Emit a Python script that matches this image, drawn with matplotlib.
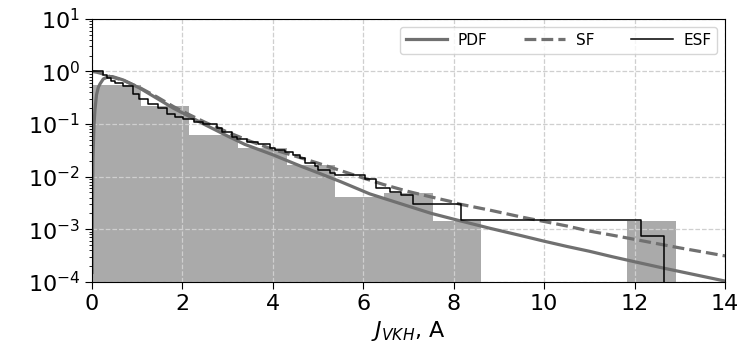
import numpy as np
import matplotlib
matplotlib.use('Agg')
import matplotlib.pyplot as plt

# histogram (density), bin edges and heights
bin_edges = [0, 1.076, 2.152, 3.228, 4.304, 5.38, 6.456, 7.532, 8.608,
             9.684, 10.76, 11.836, 12.912]
bin_density = [0.558, 0.222, 0.0622, 0.0357, 0.0167, 0.00416, 0.00483,
               0.00143, 0, 0, 0, 0.0014]

# fitted PDF
pdf_x = [0.005, 0.01, 0.02, 0.044, 0.066, 0.10, 0.14, 0.177, 0.25, 0.35,
         0.45, 0.69, 1.06, 1.43, 1.80, 2.17, 2.5, 3.0, 3.38, 4.0, 4.6, 5.0,
         5.5, 6.14, 6.8, 7.5, 8.13, 8.8, 9.5, 10.0, 10.5, 11.0, 11.5, 12.0,
         12.66, 13.3, 14.0]
pdf_y = [0.00015, 0.003, 0.02, 0.096, 0.19, 0.36, 0.50, 0.58, 0.72, 0.79,
         0.80, 0.69, 0.48, 0.31, 0.20, 0.137, 0.097, 0.059, 0.041, 0.026,
         0.016, 0.0118, 0.0080, 0.0047, 0.0031, 0.0020, 0.00145, 0.00104,
         0.00075, 0.00059, 0.00047, 0.00038, 0.00030, 0.00024, 0.00018,
         0.000138, 0.000103]

# fitted survival function
sf_x = [0, 0.1, 0.2, 0.3, 0.4, 0.69, 1.06, 1.43, 1.80, 2.17, 2.5, 3.0, 3.5,
        4.0, 4.6, 5.0, 5.5, 6.0, 6.44, 7.0, 7.5, 7.91, 8.13, 8.8, 9.5, 10.0,
        10.5, 11.0, 11.5, 12.0, 12.5, 13.0, 13.5, 14.0]
sf_y = [1.0, 0.97, 0.92, 0.86, 0.80, 0.68, 0.49, 0.33, 0.215, 0.148, 0.108,
        0.070, 0.047, 0.033, 0.0230, 0.0180, 0.0130, 0.0094, 0.0071, 0.0052,
        0.0041, 0.0034, 0.0030, 0.0023, 0.0017, 0.0014, 0.00115, 0.00092,
        0.00077, 0.00064, 0.00053, 0.00044, 0.00037, 0.00031]

# empirical survival function (step positions and levels)
esf_x = [0, 0.24, 0.33, 0.42, 0.51, 0.69, 0.90, 1.045, 1.244, 1.465, 1.65,
         1.83, 2.02, 2.25, 2.46, 2.76, 2.87, 3.09, 3.20, 3.42, 3.68, 3.93,
         4.04, 4.27, 4.45, 4.60, 4.71, 4.93, 5.00, 5.26, 5.37, 6.03, 6.29,
         6.59, 6.84, 7.10, 8.17, 12.13, 12.65]
esf_y = [1.0, 0.85, 0.74, 0.66, 0.60, 0.518, 0.376, 0.298, 0.239, 0.201,
         0.155, 0.139, 0.125, 0.110, 0.0995, 0.0835, 0.072, 0.0578, 0.0515,
         0.0464, 0.0414, 0.0357, 0.0323, 0.0292, 0.0259, 0.0230, 0.0185,
         0.0160, 0.0134, 0.0116, 0.0108, 0.0089, 0.0062, 0.0052, 0.0045,
         0.0030, 0.0015, 0.00075, 0.00001]

line_grey = '#707070'

fig = plt.figure(figsize=(7.51, 3.5), dpi=100)
ax = fig.add_axes([0.1225, 0.195, 0.843, 0.751])

widths = np.diff(bin_edges)
ax.bar(bin_edges[:-1], bin_density, width=widths, align='edge',
       color='#aaaaaa', linewidth=0, zorder=1)

ax.plot(pdf_x, pdf_y, color=line_grey, lw=2.3, label='PDF', zorder=3)
ax.plot(sf_x, sf_y, color=line_grey, lw=2.3, ls='--', label='SF', zorder=3)
ax.step(esf_x, esf_y, where='post', color='k', lw=1.1, label='ESF', zorder=4)

ax.set_yscale('log')
ax.set_xlim(0, 14)
ax.set_ylim(1e-4, 10)
ax.set_xticks(np.arange(0, 15, 2))
ax.tick_params(axis='both', which='major', labelsize=16, length=5)
ax.set_xlabel('$J_{VKH}$, A', fontsize=16)

ax.set_axisbelow(False)
ax.grid(True, which='major', ls='--', color='#cfcfcf', lw=0.9)
for sp in ax.spines.values():
    sp.set_zorder(6)

ax.legend(loc='upper right', ncol=3, fontsize=11, handlelength=2.7,
          handletextpad=0.7, columnspacing=2.4, borderaxespad=0.5)

plt.savefig('out.png', dpi=100)
